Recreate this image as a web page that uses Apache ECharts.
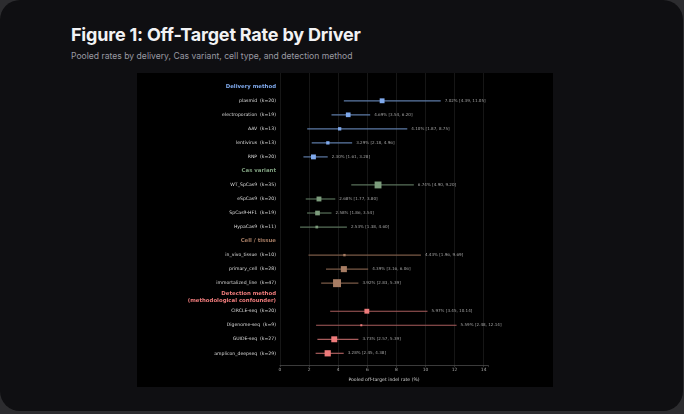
<!DOCTYPE html>
<html>
<head>
<meta charset="utf-8">
<script src="https://cdn.jsdelivr.net/npm/echarts@6/dist/echarts.min.js"></script>
<style>
  html, body { margin: 0; padding: 0; background: #2c2c2f; width: 684px; height: 414px; overflow: hidden; }
  .card { position: absolute; left: 0; top: 0; width: 683px; height: 411px; background: #0f0f12; border-radius: 20px; }
  .title { position: absolute; left: 71px; top: 24px; font-family: Inter, sans-serif; font-weight: 700; font-size: 18px; color: #f2f2f4; letter-spacing: -0.2px; }
  .sub { position: absolute; left: 71px; top: 51px; font-family: Inter, sans-serif; font-size: 8.6px; color: #9a9aa2; }
  #chart { position: absolute; left: 137px; top: 73px; width: 416px; height: 314px; }
</style>
</head>
<body>
<div class="card"></div>
<div class="title">Figure 1: Off-Target Rate by Driver</div>
<div class="sub">Pooled rates by delivery, Cas variant, cell type, and detection method</div>
<div id="chart"></div>
<script>
// groups and their colours (marker / ci line)
var groupNames = ['Delivery method', 'Cas variant', 'Cell / tissue', 'Detection method\n(methodological confounder)'];
var groupColors = ['#7fa9ec', '#7c9c7c', '#a67c63', '#ee7b7b'];
var lineColors = ['#5d7aa6', '#58715a', '#7a5a47', '#a85c5c'];

// one entry per driver level
var levelNames = ['plasmid', 'electroporation', 'AAV', 'lentivirus', 'RNP',
                  'WT_SpCas9', 'eSpCas9', 'SpCas9-HF1', 'HypaCas9',
                  'in_vivo_tissue', 'primary_cell', 'immortalized_line',
                  'CIRCLE-seq', 'Digenome-seq', 'GUIDE-seq', 'amplicon_deepseq'];
var levelGroup = [0, 0, 0, 0, 0, 1, 1, 1, 1, 2, 2, 2, 3, 3, 3, 3];
var studyCount = [20, 19, 13, 13, 20, 35, 20, 19, 11, 10, 28, 47, 20, 9, 27, 29];
var pooledRate = [7.02, 4.69, 4.10, 3.29, 2.30, 6.74, 2.68, 2.58, 2.53, 4.43, 4.39, 3.92, 5.97, 5.59, 3.73, 3.28];
var ciLow = [4.39, 3.54, 1.87, 2.18, 1.61, 4.90, 1.77, 1.86, 1.38, 1.96, 3.16, 2.83, 3.45, 2.48, 2.57, 2.45];
var ciHigh = [11.05, 6.20, 8.75, 4.96, 3.28, 9.20, 3.80, 3.54, 4.60, 9.69, 6.06, 5.39, 10.14, 12.14, 5.39, 4.38];

var xTicks = [0, 2, 4, 6, 8, 10, 12, 14];

// build rows: a header row before each group
var headerRows = [];
var levelRows = [];
var row = 0;
for (var g = 0; g < groupNames.length; g++) {
    headerRows.push([0, row, g]);
    row++;
    for (var i = 0; i < levelNames.length; i++) {
        if (levelGroup[i] === g) {
            levelRows.push([pooledRate[i], row, ciLow[i], ciHigh[i], studyCount[i], g, i]);
            row++;
        }
    }
}

var myChart = echarts.init(document.getElementById('chart'));

function renderLevel(params, api) {
    var y = api.value(1);
    var g = api.value(5);
    var idx = api.value(6);
    var k = api.value(4);
    var p = api.coord([api.value(0), y]);
    var a = api.coord([api.value(2), y]);
    var b = api.coord([api.value(3), y]);
    var z = api.coord([0, y]);
    var s = 2 + 3.6 * Math.log(k / 9); // marker grows with study count
    return {
        type: 'group',
        children: [
            { type: 'line', shape: { x1: a[0], y1: a[1], x2: b[0], y2: b[1] },
              style: { stroke: lineColors[g], lineWidth: 1.2 } },
            { type: 'rect', shape: { x: p[0] - s / 2, y: p[1] - s / 2, width: s, height: s },
              style: { fill: groupColors[g] } },
            { type: 'text', x: b[0] + 4, y: b[1],
              style: { text: api.value(0).toFixed(2) + '% [' + api.value(2).toFixed(2) + ', ' + api.value(3).toFixed(2) + ']',
                       fill: '#a4a4a4', font: '4.1px "DejaVu Sans"', align: 'left', verticalAlign: 'middle' } },
            { type: 'text', x: z[0] - 4, y: z[1],
              style: { text: levelNames[idx] + '  (k=' + k + ')',
                       fill: '#dcdcdc', font: '4.6px "DejaVu Sans"', align: 'right', verticalAlign: 'middle' } }
        ]
    };
}

function renderHeader(params, api) {
    var g = api.value(2);
    var z = api.coord([0, api.value(1)]);
    return {
        type: 'text', x: z[0] - 4, y: z[1],
        style: { text: groupNames[g], fill: groupColors[g], font: 'bold 5.4px "DejaVu Sans"',
                 align: 'right', verticalAlign: 'middle', lineHeight: 7 }
    };
}

var option = {
    backgroundColor: '#000000',
    animation: false,
    grid: { left: 143, right: 65, top: 0, bottom: 15 },
    xAxis: {
        type: 'value',
        position: 'bottom',
        min: 0,
        max: 14.3,
        interval: 2,
        name: 'Pooled off-target indel rate (%)',
        nameLocation: 'middle',
        nameGap: 11,
        nameTextStyle: { color: '#d0d0d0', fontSize: 4.6, fontFamily: 'DejaVu Sans' },
        axisLine: { onZero: false, lineStyle: { color: '#4a4a4a', width: 0.8 } },
        axisTick: { length: 2, lineStyle: { color: '#4a4a4a', width: 0.6 } },
        axisLabel: {
            color: '#ababab', fontSize: 4.4, fontFamily: 'DejaVu Sans', margin: 3,
            formatter: function (v) { return xTicks.indexOf(v) >= 0 ? String(v) : ''; }
        },
        splitLine: { show: false }
    },
    yAxis: {
        type: 'value',
        inverse: true,
        min: -0.98,
        max: 19.84,
        show: false
    },
    series: [
        {
            type: 'custom',
            name: 'headers',
            renderItem: renderHeader,
            data: headerRows,
            encode: { x: 0, y: 1 },
            silent: true,
            z: 1,
            markLine: {
                silent: true,
                symbol: 'none',
                z: 0,
                label: { show: false },
                lineStyle: { color: '#1c1c1c', type: 'solid', width: 0.8 },
                data: xTicks.map(function (v) { return { xAxis: v }; })
            }
        },
        {
            type: 'custom',
            name: 'levels',
            renderItem: renderLevel,
            data: levelRows,
            encode: { x: [0, 2, 3], y: 1 },
            silent: true,
            z: 5
        }
    ]
};

myChart.setOption(option);
</script>
</body>
</html>
